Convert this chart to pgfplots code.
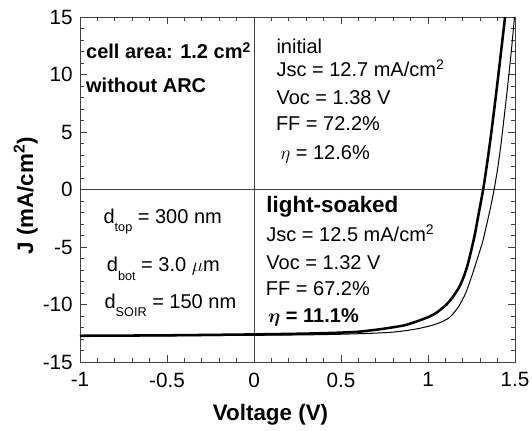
\documentclass[border=0pt]{standalone}
\usepackage{pgfplots}
\pgfplotsset{compat=1.18}
\usepackage{bm}
\usepackage{fontspec}
\setmainfont{Liberation Sans}

% J-V curves of the tandem cell, before and after light soaking
\pgfplotstableread{
V J
-1.00 -12.76
-0.50 -12.72
0.00 -12.68
0.30 -12.64
0.49 -12.59
0.682 -12.50
0.80 -12.40
0.873 -12.27
0.95 -12.08
1.026 -11.80
1.08 -11.50
1.122 -11.15
1.15 -10.70
1.179 -10.10
1.217 -9.00
1.25 -7.60
1.28 -6.20
1.313 -4.60
1.332 -3.40
1.356 -1.80
1.38 0.00
1.40 1.80
1.42 4.00
1.44 6.60
1.46 9.30
1.48 12.20
1.497 15.00
}\initialdata

\pgfplotstableread{
V J
-1.00 -12.72
-0.50 -12.68
0.00 -12.60
0.30 -12.53
0.49 -12.45
0.606 -12.36
0.72 -12.16
0.80 -11.98
0.873 -11.78
0.94 -11.45
1.007 -11.06
1.05 -10.70
1.103 -10.05
1.14 -9.40
1.179 -8.50
1.205 -7.60
1.227 -6.60
1.25 -5.20
1.27 -3.85
1.29 -2.20
1.317 0.00
1.34 2.30
1.36 4.50
1.38 6.90
1.40 9.40
1.42 12.00
1.443 15.00
}\soakeddata

\newcommand{\sub}[1]{\raisebox{-6.5pt}{\fontsize{9.5}{10}\selectfont #1}}
\newcommand{\boldeta}{$\bm{\eta}$}

\begin{document}
\begin{tikzpicture}
\begin{axis}[
  name=jv,
  scale only axis,
  width=326.25pt, height=258.75pt,
  xmin=-1, xmax=1.5, ymin=-15, ymax=15,
  xtick={-1,-0.5,0,0.5,1,1.5},
  xticklabels={-1,-0.5,0,0.5,1,1.5},
  ytick={-15,-10,-5,0,5,10,15},
  yticklabels={-15,-10,-5,0,5,10,15},
  minor x tick num=4, minor y tick num=4,
  tick align=inside,
  major tick length=5.25pt, minor tick length=2.8pt,
  axis line style={black!75, line width=0.6pt},
  tick style={black!75, line width=0.5pt},
  tick label style={font=\fontsize{15.5}{17}\selectfont},
  yticklabel style={xshift=-2pt},
  xticklabel style={yshift=-4.5pt},
  xlabel={Voltage (V)},
  ylabel={J (mA/cm\textsuperscript{2})},
  x label style={at={(axis description cs:0.438,-0.171)}, anchor=base, font=\bfseries\fontsize{16.8}{18}\selectfont},
  y label style={at={(axis description cs:-0.108,0.482)}, anchor=base, font=\bfseries\fontsize{16.8}{18}\selectfont},
]
% zero lines
\addplot[black!75, line width=0.6pt] coordinates {(0,-15) (0,15)};
\addplot[black!75, line width=0.6pt] coordinates {(-1,0) (1.5,0)};

\addplot[black, line width=0.75pt, smooth, tension=0.4] table[x=V, y=J] {\initialdata};
\addplot[black, line width=1.9pt, smooth, tension=0.4] table[x=V, y=J] {\soakeddata};

% cell description
\node[anchor=base west, inner sep=0pt, font=\bfseries\fontsize{15}{17}\selectfont] at (axis cs:-0.966,11.35) {cell area: 1.2 cm\textsuperscript{2}};
\node[anchor=base west, inner sep=0pt, font=\bfseries\fontsize{15}{17}\selectfont] at (axis cs:-0.966,8.4) {without ARC};

% layer thicknesses
\node[anchor=base west, inner sep=0pt, font=\fontsize{15}{17}\selectfont] at (axis cs:-0.866,-2.94) {d\sub{top} = 300 nm};
\node[anchor=base west, inner sep=0pt, font=\fontsize{15}{17}\selectfont] at (axis cs:-0.847,-7.15) {d\sub{bot} = 3.0 $\mu$m};
\node[anchor=base west, inner sep=0pt, font=\fontsize{15}{17}\selectfont] at (axis cs:-0.86,-10.33) {d\sub{SOIR} = 150 nm};

% initial state
\node[anchor=base west, inner sep=0pt, font=\fontsize{15}{17}\selectfont] at (axis cs:0.128,11.84) {initial};
\node[anchor=base west, inner sep=0pt, font=\fontsize{15}{17}\selectfont] at (axis cs:0.128,9.8) {Jsc = 12.7 mA/cm\textsuperscript{2}};
\node[anchor=base west, inner sep=0pt, font=\fontsize{15}{17}\selectfont] at (axis cs:0.128,7.43) {Voc = 1.38 V};
\node[anchor=base west, inner sep=0pt, font=\fontsize{15}{17}\selectfont] at (axis cs:0.125,5.1) {FF = 72.2\%};
\node[anchor=base west, inner sep=0pt, font=\fontsize{15}{17}\selectfont] at (axis cs:0.150,2.57) {$\eta$ = 12.6\%};

% light-soaked state
\node[anchor=base west, inner sep=0pt, font=\bfseries\fontsize{16.8}{18}\selectfont] at (axis cs:0.07,-2.0) {light-soaked};
\node[anchor=base west, inner sep=0pt, font=\fontsize{15}{17}\selectfont] at (axis cs:0.07,-4.54) {Jsc = 12.5 mA/cm\textsuperscript{2}};
\node[anchor=base west, inner sep=0pt, font=\fontsize{15}{17}\selectfont] at (axis cs:0.07,-7.0) {Voc = 1.32 V};
\node[anchor=base west, inner sep=0pt, font=\fontsize{15}{17}\selectfont] at (axis cs:0.067,-9.26) {FF = 67.2\%};
\node[anchor=base west, inner sep=0pt, font=\bfseries\fontsize{15}{17}\selectfont] at (axis cs:0.08,-11.6) {\boldeta{} = 11.1\%};
\end{axis}
\pgfresetboundingbox
\path[use as bounding box] ([shift={(-60pt,-51.75pt)}]jv.south west) rectangle ([shift={(12.75pt,12.75pt)}]jv.north east);
\end{tikzpicture}
\end{document}
